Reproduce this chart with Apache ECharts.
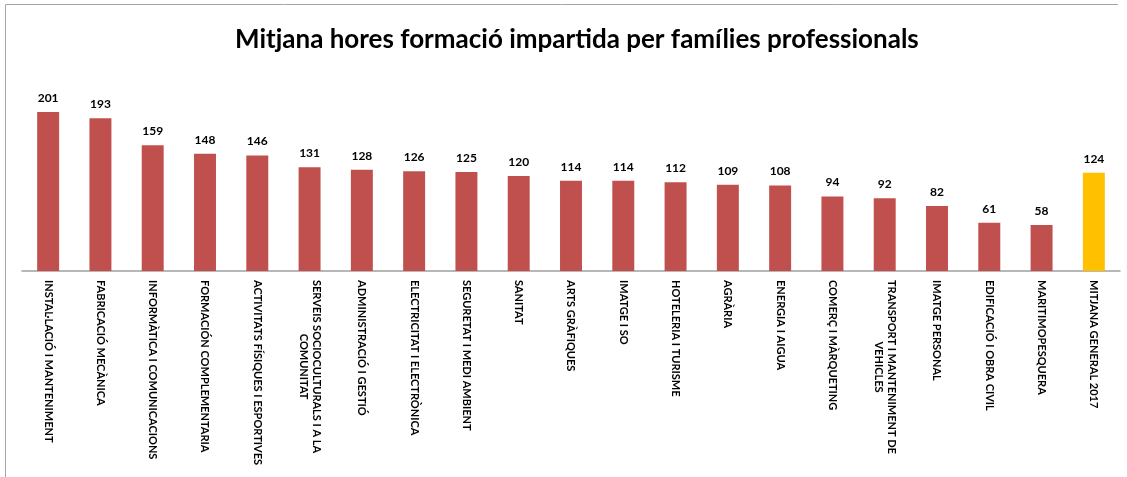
<!DOCTYPE html>
<html><head><meta charset="utf-8">
<script src="https://cdn.jsdelivr.net/npm/echarts@6/dist/echarts.min.js"></script>
<style>html,body{margin:0;padding:0;background:#fff}#c{width:1127px;height:477px}</style>
</head><body><div id="c"></div>
<script>
const titleText = 'Mitjana hores formació impartida per famílies professionals';
const categories = [
  'INSTAL·LACIÓ I MANTENIMENT',
  'FABRICACIÓ MECÀNICA',
  'INFORMÀTICA I COMUNICACIONS',
  'FORMACIÓN COMPLEMENTARIA',
  'ACTIVITATS FÍSIQUES I ESPORTIVES',
  'SERVEIS SOCIOCULTURALS I A LA\nCOMUNITAT',
  'ADMINISTRACIÓ I GESTIÓ',
  'ELECTRICITAT I ELECTRÒNICA',
  'SEGURETAT I MEDI AMBIENT',
  'SANITAT',
  'ARTS GRÀFIQUES',
  'IMATGE I SO',
  'HOTELERIA I TURISME',
  'AGRÀRIA',
  'ENERGIA I AIGUA',
  'COMERÇ I MÀRQUETING',
  'TRANSPORT I MANTENIMENT DE\nVEHICLES',
  'IMATGE PERSONAL',
  'EDIFICACIÓ I OBRA CIVIL',
  'MARITIMOPESQUERA',
  'MITJANA GENERAL 2017'
];
const values = [201,193,159,148,146,131,128,126,125,120,114,114,112,109,108,94,92,82,61,58,124];
const highlightIndex = [20];

const chart = echarts.init(document.getElementById('c'));
chart.setOption({
  animation: false,
  title: {
    text: titleText, left: 230, top: 22,
    textStyle: {fontFamily: 'Lato', fontWeight: 'bold', fontSize: 26, color: '#000'}
  },
  graphic: [{
    type: 'polyline', silent: true,
    shape: {points: [[5.5,477],[5.5,4.5],[1118,4.5]]},
    style: {stroke: '#A6A6A6', lineWidth: 1, fill: null}
  }],
  grid: {left: 22, right: 7, top: 81, bottom: 206},
  xAxis: {
    type: 'category', data: categories,
    axisLine: {lineStyle: {color: '#A0A0A0', width: 1.5}},
    axisTick: {show: false},
    axisLabel: {
      rotate: -90, interval: 0, margin: 9,
      formatter: v => v.split('\n').map(s => '{a|' + s + '}').join('\n'),
      rich: {a: {align: 'center', fontFamily: 'Lato', fontWeight: 'bold', fontSize: 11, color: '#000', lineHeight: 13}}
    }
  },
  yAxis: {type: 'value', min: 0, max: 240, show: false, splitLine: {show: false}},
  series: [{
    type: 'bar', barWidth: '42%',
    data: values.map((v, i) => highlightIndex.includes(i) ? {value: v, itemStyle: {color: '#FFC000'}} : v),
    itemStyle: {color: '#C0504D'},
    label: {show: true, position: 'top', distance: 8, fontFamily: 'Lato', fontWeight: 'bold', fontSize: 12, color: '#000'}
  }]
});
</script></body></html>
